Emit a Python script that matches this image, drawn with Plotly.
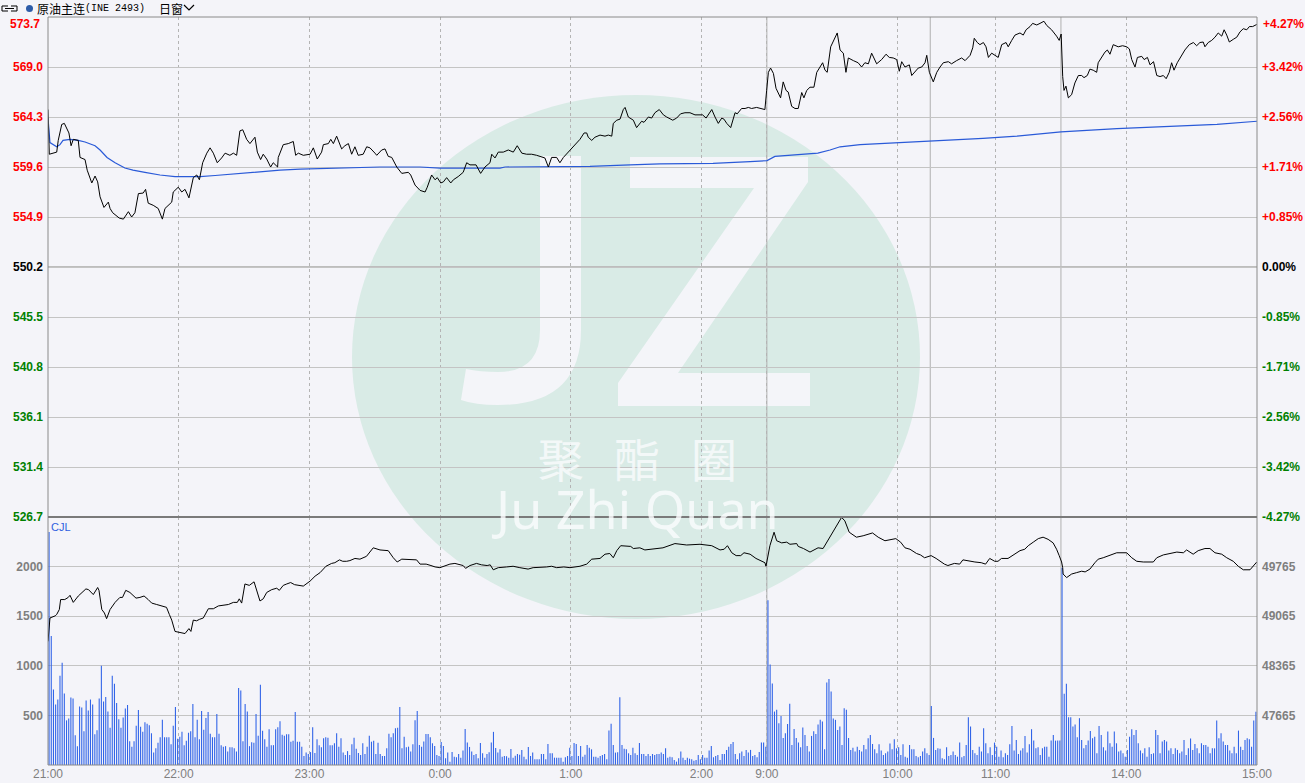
import plotly.graph_objects as go

# ---------------- data ----------------
prev_settle = 550.2

# price axis ticks and the matching percent labels
price_ticks = [526.7, 531.4, 536.1, 540.8, 545.5, 550.2, 554.9, 559.6, 564.3, 569.0, 573.7]
pct_labels = ['-4.27%', '-3.42%', '-2.56%', '-1.71%', '-0.85%', '0.00%',
              '+0.85%', '+1.71%', '+2.56%', '+3.42%', '+4.27%']
vol_ticks = [500, 1000, 1500, 2000]
oi_ticks = [47665, 48365, 49065, 49765]

# trading minutes since 21:00 (night 21:00-2:30, day 9:00-10:15, 10:30-11:30, 13:30-15:00)
time_ticks = [0, 60, 120, 180, 240, 300, 330, 390, 435, 495, 555]
time_labels = ['21:00', '22:00', '23:00', '0:00', '1:00', '2:00', '9:00', '10:00', '11:00', '14:00', '15:00']
session_breaks = [330, 405, 465]

# last price
price_min = [0, 0.6, 4.0, 4.7, 6.3, 7.5, 9.6, 10.6, 11.6, 13.9, 14.7, 17.0, 18.0, 20.1, 21.6, 22.8, 23.9, 25.7, 27.7, 28.5,
             29.7, 32.7, 34.6, 36.9, 38.4, 39.9, 41.5, 43.7, 44.8, 46.0, 48.3, 50.6, 52.5, 53.7, 56.8, 57.5, 59.8, 61.4, 62.9, 64.7,
             66.7, 68.3, 69.5, 71.0, 72.9, 74.4, 75.9, 77.7, 79.7, 81.3, 83.5, 85.1, 86.6, 88.1, 89.4, 91.2, 92.7, 95.0, 96.1, 97.6,
             98.8, 100.4, 102.2, 103.4, 105.4, 105.7, 108.0, 110.3, 112.6, 113.7, 114.9, 117.2, 120.3, 121.8, 123.6, 125.6, 126.4, 128.7, 129.8, 131.0,
             132.5, 134.8, 136.3, 137.9, 139.4, 140.9, 142.4, 144.7, 146.3, 147.8, 150.1, 150.9, 153.2, 154.7, 156.2, 157.8, 160.1, 162.4, 165.4, 166.5,
             168.5, 170.0, 170.8, 173.1, 174.1, 176.1, 177.7, 178.7, 180.3, 181.5, 183.0, 184.9, 186.1, 188.3, 190.6, 192.2, 193.7, 196.5, 198.6, 200.6,
             202.9, 203.7, 205.2, 206.7, 209.0, 211.3, 213.6, 215.4, 217.5, 219.7, 222.0, 224.3, 226.2, 228.1, 229.7, 231.2, 233.5, 235.0, 236.6, 238.8,
             241.1, 242.7, 244.2, 246.1, 247.3, 248.0, 249.6, 251.1, 253.4, 255.7, 257.2, 258.8, 259.5, 261.1, 262.6, 264.1, 264.9, 266.4, 268.7, 270.2,
             272.5, 273.6, 275.6, 277.1, 278.6, 280.6, 282.5, 284.0, 286.8, 288.6, 290.4, 292.4, 294.7, 297.0, 300.5, 302.1, 304.7, 306.2, 307.7, 309.3,
             310.3, 311.6, 313.4, 315.4, 316.4, 318.4, 320.0, 321.5, 323.0, 325.3, 327.6, 329.1, 329.9, 330.7, 331.7, 333.0, 334.2, 335.2, 336.3, 337.5,
             338.8, 339.8, 341.4, 342.9, 344.4, 346.0, 347.0, 348.3, 349.8, 351.6, 352.9, 354.4, 355.6, 356.7, 357.7, 359.3, 360.8, 362.3, 363.6, 365.1,
             366.3, 367.4, 369.7, 371.9, 373.5, 375.0, 376.6, 378.1, 380.4, 382.7, 384.7, 386.2, 388.0, 389.6, 390.8, 391.9, 393.4, 395.4, 396.5, 398.0,
             399.5, 401.1, 402.6, 403.4, 404.6, 406.4, 408.0, 409.5, 411.0, 413.3, 414.8, 417.1, 419.4, 421.0, 423.3, 424.5, 425.2, 426.6, 427.8, 429.4,
             430.6, 431.7, 433.2, 436.2, 437.8, 439.8, 440.8, 442.4, 443.9, 446.2, 447.7, 449.0, 450.8, 452.0, 453.9, 455.4, 457.2, 458.5, 460.7, 463.0,
             464.2, 465.1, 465.8, 466.4, 467.3, 468.4, 469.9, 471.4, 473.0, 474.5, 475.6, 477.1, 478.3, 479.8, 481.4, 482.1, 483.7, 485.2, 486.3, 487.5,
             489.0, 491.3, 493.3, 495.2, 496.4, 497.5, 499.0, 500.1, 502.1, 503.2, 504.7, 505.9, 507.5, 509.0, 510.5, 512.0, 513.3, 514.7, 515.8, 516.9,
             518.4, 519.7, 521.9, 523.9, 525.8, 527.3, 528.8, 530.3, 531.1, 532.6, 534.2, 535.7, 537.2, 538.8, 539.9, 541.1, 542.3, 544.1, 545.7, 547.2,
             548.7, 550.3, 551.5, 553.0, 554.9]
price_val = [565.0, 560.8, 561.0, 562.1, 563.6, 563.7, 562.8, 561.6, 562.2, 562.1, 560.5, 560.3, 559.3, 558.1, 558.75, 558.2, 556.8, 555.8, 556.3, 555.7,
             555.3, 554.8, 554.7, 555.4, 554.9, 555.3, 557.1, 557.15, 557.5, 556.2, 556.0, 555.7, 554.7, 555.7, 556.3, 557.25, 557.7, 557.25, 557.5, 556.7,
             558.6, 558.85, 558.4, 560.0, 560.9, 561.4, 560.9, 560.0, 560.45, 560.9, 560.7, 560.9, 560.7, 563.0, 563.1, 562.2, 561.8, 562.4, 561.0, 560.3,
             560.8, 560.35, 559.6, 560.0, 559.6, 560.5, 561.7, 561.8, 562.0, 560.7, 560.9, 560.7, 560.8, 561.4, 560.35, 561.0, 561.7, 561.8, 562.2, 561.8,
             562.5, 561.3, 561.6, 561.8, 560.8, 561.5, 560.7, 560.8, 561.5, 561.4, 560.9, 560.7, 561.2, 561.3, 560.6, 560.5, 559.6, 559.0, 559.1, 558.85,
             557.9, 557.5, 557.4, 557.25, 557.7, 558.85, 558.4, 558.6, 558.1, 558.2, 558.6, 558.1, 558.4, 558.7, 559.1, 560.0, 559.8, 559.8, 559.0, 559.6,
             560.0, 560.8, 560.45, 561.0, 561.0, 561.2, 561.0, 561.6, 560.9, 560.8, 560.8, 560.7, 560.6, 560.45, 559.6, 560.5, 560.5, 560.0, 560.5, 561.0,
             561.5, 561.95, 562.2, 562.8, 562.8, 562.4, 562.1, 562.4, 562.6, 562.5, 562.6, 562.5, 563.7, 564.0, 564.1, 565.0, 565.2, 564.3, 564.0, 563.3,
             563.9, 563.8, 564.3, 564.2, 564.7, 565.0, 564.5, 564.3, 564.0, 564.2, 564.6, 564.7, 564.7, 564.5, 564.5, 564.2, 565.0, 564.3, 563.7, 564.2,
             564.1, 563.7, 563.3, 564.7, 564.6, 565.1, 565.1, 565.2, 565.1, 565.2, 565.1, 565.0, 566.8, 568.5, 568.9, 568.4, 567.0, 566.6, 566.1, 567.6,
             566.8, 566.65, 565.3, 565.1, 565.1, 566.6, 566.1, 566.8, 567.1, 567.1, 568.5, 569.0, 569.4, 568.7, 568.5, 570.9, 571.5, 572.2, 570.6, 570.3,
             568.5, 569.85, 569.6, 569.4, 569.0, 569.4, 569.3, 570.3, 569.3, 569.7, 570.2, 569.9, 569.85, 569.7, 568.6, 569.5, 569.0, 569.2, 568.2, 568.6,
             568.9, 569.0, 569.4, 570.1, 568.5, 567.6, 568.5, 569.0, 569.4, 569.5, 569.3, 569.6, 569.85, 569.6, 570.1, 570.8, 571.7, 571.3, 571.1, 571.3,
             570.9, 569.9, 570.3, 569.9, 571.1, 571.3, 570.9, 571.5, 572.0, 572.2, 572.0, 572.5, 572.8, 573.1, 572.95, 573.1, 573.3, 572.9, 572.5, 571.9,
             571.5, 572.1, 568.1, 566.8, 567.2, 566.1, 566.4, 567.5, 568.2, 568.2, 568.0, 568.2, 568.8, 568.7, 568.5, 569.4, 569.9, 570.4, 570.6, 570.2,
             571.1, 570.9, 571.0, 570.9, 570.7, 569.7, 569.0, 569.9, 570.0, 569.7, 569.9, 569.2, 569.5, 568.2, 568.1, 568.2, 567.9, 568.5, 569.4, 568.7,
             569.4, 569.85, 570.6, 571.1, 571.3, 571.0, 571.3, 571.35, 570.9, 571.3, 571.5, 571.8, 572.2, 571.9, 572.5, 572.0, 571.35, 571.6, 571.8, 572.3,
             572.6, 572.5, 572.8, 572.8, 573.0]

# average price
avg_min = [0, 0.6, 0.9, 4.0, 5.5, 6.9, 10.1, 13.9, 17.0, 21.6, 23.9, 27.1, 30.8, 35.3, 39.0, 44.5, 51.4, 58.3, 69.8, 76.7,
           85.8, 95.9, 106.5, 115.7, 129.5, 138.6, 152.4, 170.8, 179.9, 207.5, 209.8, 248.8, 253.4, 267.2, 280.9, 305.3, 322.3, 330.1, 333.7, 342.0,
           353.4, 359.0, 363.6, 372.8, 381.9, 393.4, 406.3, 429.2, 444.8, 460.0, 465.0, 490.7, 513.7, 536.6, 555.0]
avg_val = [564.2, 562.6, 561.9, 561.5, 561.7, 562.1, 562.2, 562.1, 561.95, 561.6, 561.2, 560.5, 560.0, 559.5, 559.3, 559.1, 558.85, 558.7, 558.7, 558.8,
           558.95, 559.15, 559.3, 559.4, 559.5, 559.5, 559.6, 559.6, 559.5, 559.5, 559.6, 559.65, 559.7, 559.8, 559.9, 559.95, 560.1, 560.2, 560.6, 560.7,
           560.9, 561.2, 561.5, 561.7, 561.8, 561.9, 562.0, 562.3, 562.5, 562.8, 562.9, 563.2, 563.4, 563.6, 563.9]

# open interest
oi_min = [0, 0.6, 0.9, 3.3, 4.0, 5.2, 5.8, 7.7, 9.3, 10.1, 11.6, 13.9, 17.4, 18.6, 20.8, 22.8, 23.4, 24.7, 25.9, 26.9,
          28.5, 30.8, 33.0, 34.2, 35.7, 37.6, 40.4, 42.2, 44.1, 46.0, 47.6, 49.9, 52.1, 54.4, 55.7, 56.8, 58.3, 60.6, 62.9, 64.7,
          65.6, 66.7, 68.2, 69.5, 71.3, 73.6, 75.9, 78.2, 80.5, 82.8, 85.1, 86.9, 87.8, 88.9, 90.4, 92.4, 94.6, 95.5, 97.3, 98.8,
          100.4, 102.7, 105.0, 106.2, 108.0, 109.6, 111.4, 113.2, 114.9, 117.2, 120.3, 122.6, 124.9, 127.6, 130.2, 131.7, 133.8, 135.3, 137.1, 138.6,
          140.9, 143.2, 146.2, 149.3, 152.4, 156.2, 158.5, 160.3, 162.4, 164.7, 169.2, 170.8, 173.6, 175.8, 177.7, 179.9, 182.2, 184.5, 186.8, 188.6,
          190.6, 191.7, 193.7, 196.7, 199.0, 201.6, 203.0, 204.4, 206.7, 210.5, 213.5, 216.6, 220.4, 222.7, 225.9, 228.9, 231.2, 233.5, 236.8, 239.6,
          244.2, 247.3, 249.6, 253.4, 255.7, 257.9, 259.5, 261.1, 262.9, 265.7, 267.5, 268.7, 271.7, 274.0, 277.8, 282.3, 287.8, 293.2, 299.3, 304.7,
          308.5, 310.4, 311.9, 313.9, 315.9, 318.0, 319.5, 322.3, 325.0, 327.6, 329.1, 329.6, 330.2, 331.4, 333.3, 334.5, 336.8, 339.1, 340.6, 343.7,
          344.4, 346.8, 349.8, 351.3, 353.5, 355.8, 357.3, 360.4, 363.2, 364.3, 365.8, 367.8, 371.1, 374.2, 378.5, 381.1, 384.2, 386.5, 389.2, 391.4,
          393.4, 395.7, 398.7, 400.5, 402.4, 405.4, 407.7, 411.5, 413.1, 416.1, 418.5, 420.0, 423.1, 425.5, 428.4, 430.4, 432.3, 434.6, 436.1, 437.7,
          440.7, 443.8, 446.2, 448.4, 450.0, 452.3, 454.6, 456.8, 459.1, 461.4, 463.0, 464.2, 465.3, 465.8, 466.0, 467.6, 469.9, 472.2, 474.5, 476.1,
          478.3, 480.6, 482.1, 484.4, 487.5, 490.6, 495.2, 497.5, 499.8, 502.8, 507.4, 509.0, 512.0, 515.1, 518.2, 521.2, 522.7, 525.7, 528.0, 531.1,
          533.4, 535.7, 538.8, 541.1, 544.1, 546.4, 548.7, 551.8, 553.3, 554.9]
oi_val = [48710, 48900, 49040, 49070, 49090, 49160, 49300, 49300, 49330, 49360, 49260, 49350, 49450, 49440, 49370, 49470, 49430, 49160, 49110, 49030,
          49160, 49260, 49330, 49330, 49430, 49400, 49320, 49330, 49350, 49300, 49250, 49230, 49210, 49190, 49090, 49010, 48850, 48840, 48820, 48890,
          48850, 49010, 49000, 49020, 49040, 49170, 49170, 49210, 49220, 49230, 49260, 49260, 49310, 49250, 49520, 49500, 49550, 49450, 49280, 49310,
          49400, 49440, 49460, 49430, 49500, 49520, 49540, 49510, 49500, 49490, 49560, 49630, 49680, 49770, 49810, 49820, 49860, 49840, 49840, 49850,
          49880, 49870, 49910, 50030, 50000, 49990, 49890, 49830, 49870, 49870, 49860, 49800, 49800, 49780, 49760, 49750, 49780, 49800, 49810, 49800,
          49780, 49740, 49780, 49810, 49790, 49780, 49790, 49720, 49750, 49760, 49770, 49750, 49730, 49750, 49750, 49760, 49770, 49750, 49760, 49750,
          49770, 49800, 49870, 49880, 49940, 49950, 49890, 49990, 50060, 50050, 50050, 50020, 50030, 50000, 50010, 50030, 50090, 50070, 50080, 50060,
          50000, 50010, 50060, 49960, 49920, 49920, 49960, 49940, 49880, 49840, 49820, 49770, 49870, 50060, 50250, 50130, 50100, 50110, 50080, 50090,
          50050, 50020, 49970, 49990, 50030, 50020, 50100, 50270, 50410, 50460, 50410, 50250, 50180, 50200, 50240, 50180, 50130, 50140, 50160, 50110,
          50030, 50010, 49950, 49930, 49890, 49920, 49880, 49800, 49780, 49810, 49800, 49860, 49840, 49830, 49820, 49800, 49880, 49840, 49840, 49880,
          49880, 49940, 49990, 50010, 50060, 50110, 50160, 50180, 50150, 50100, 50010, 49920, 49830, 49750, 49660, 49610, 49660, 49680, 49700, 49690,
          49730, 49820, 49870, 49890, 49920, 49960, 49960, 49890, 49840, 49830, 49830, 49890, 49930, 49950, 49970, 49960, 50000, 49940, 49990, 50020,
          50020, 49960, 49940, 49890, 49840, 49770, 49720, 49720, 49770, 49830]

# volume per trading minute
volume = [
    2350, 1300, 760, 610, 660, 900, 1030, 720, 450, 470, 680, 670, 300, 190, 590, 580, 340, 650, 550, 660,
    610, 310, 350, 670, 1000, 640, 685, 540, 375, 900, 820, 625, 460, 375, 480, 570, 605, 240, 185, 240,
    395, 555, 385, 335, 430, 415, 400, 320, 125, 170, 225, 280, 455, 280, 280, 280, 210, 395, 585, 265,
    285, 335, 200, 245, 325, 340, 615, 280, 455, 260, 545, 355, 475, 535, 315, 280, 280, 515, 315, 200,
    185, 190, 135, 180, 180, 170, 135, 775, 750, 240, 615, 540, 190, 230, 225, 515, 295, 810, 345, 260,
    185, 360, 200, 200, 360, 380, 440, 305, 295, 310, 310, 235, 245, 535, 235, 235, 185, 90, 125, 110,
    130, 380, 120, 260, 200, 180, 270, 280, 275, 200, 200, 220, 320, 185, 270, 125, 100, 140, 100, 210,
    275, 165, 120, 100, 220, 110, 185, 295, 235, 245, 110, 225, 110, 90, 90, 170, 315, 280, 320, 370,
    375, 585, 170, 285, 180, 185, 135, 210, 450, 545,
    202, 185, 236, 313, 313, 280, 219, 192, 101, 91, 233, 192, 67, 125, 34, 131, 84, 78, 111, 74,
    145, 364, 226, 182, 135, 101, 111, 67, 222, 118, 74, 111, 128, 226, 334, 172, 125, 158, 84, 91,
    88, 74, 162, 74, 94, 111, 104, 152, 84, 57, 182, 91, 125, 57, 57, 57, 111, 111, 57, 212,
    118, 118, 74, 74, 74, 74, 34, 78, 91, 175, 91, 222, 212, 91, 192, 84, 104, 202, 175, 158,
    84, 84, 74, 91, 101, 111, 57, 347, 415, 202, 125, 128, 684, 202, 165, 158, 118, 101, 175, 118,
    101, 222, 111, 111, 91, 111, 91, 111, 101, 111,
    111, 125, 111, 168, 74, 84, 78, 50, 34, 67, 135, 74, 50, 74, 64, 57, 44, 50, 101, 57,
    101, 74, 74, 145, 192, 78, 91, 101, 50, 111, 111, 152, 185, 212, 233, 111, 57, 118, 135, 91,
    152, 125, 152, 91, 101, 78, 131, 226, 226, 185,
    1660, 1014, 822, 539, 556, 421, 495, 273, 320, 414, 617, 202, 364, 273, 226, 179, 377, 303, 192, 135,
    293, 340, 313, 408, 455, 438, 158, 832, 866, 741, 468, 455, 354, 388, 202, 573, 556, 273, 152, 175,
    135, 185, 152, 135, 202, 158, 270, 303, 212, 158, 118, 209, 145, 101, 118, 135, 216, 158, 260, 168,
    179, 101, 209, 84, 74, 202, 158, 158, 91, 78, 91, 135, 168, 118, 101,
    596, 273, 152, 168, 165, 67, 57, 179, 91, 101, 135, 101, 84, 226, 78, 91, 202, 482, 388, 152,
    118, 101, 185, 135, 371, 219, 118, 179, 101, 226, 185, 84, 145, 78, 118, 101, 209, 394, 145, 253,
    111, 145, 168, 293, 125, 209, 361, 246, 168, 179, 101, 168, 185, 185, 84, 246, 303, 246, 246, 246,
    1988, 718, 819, 482, 482, 388, 408, 280, 472, 253, 168, 202, 246, 344, 270, 286, 118, 394, 303, 179,
    145, 337, 219, 185, 337, 219, 135, 145, 118, 84, 152, 286, 361, 303, 354, 219, 145, 118, 168, 84,
    179, 111, 118, 354, 303, 118, 236, 253, 236, 145, 168, 111, 168, 152, 118, 135, 253, 101, 168, 266,
    152, 212, 168, 118, 219, 202, 202, 185, 118, 168, 168, 448, 270, 320, 236, 202, 202, 145, 118, 185,
    118, 347, 185, 152, 253, 270, 260, 185, 448, 536,
]

assert len(price_min) == len(price_val)
assert len(avg_min) == len(avg_val)
assert len(oi_min) == len(oi_val)

# ---------------- styling ----------------
W, H = 1305, 783
ML, MR, MT, MB = 48, 48, 17, 18
PW, PH = W - ML - MR, H - MT - MB
SPLIT = 248 / PH          # share of the volume pane

BG = '#f4f4f9'
RED = '#ff0000'
GREEN = '#008000'
GRAY = '#7f7f7f'
GRID = '#c4c4c4'
# a colour with alpha < 1 makes plotly round the thin bars to whole pixels
# instead of widening them to two pixels
VOL_BLUE = 'rgba(47,98,232,0.99)'
AVG_BLUE = '#2a5ad8'
FONT = 'Liberation Sans, Arial, sans-serif'
CJK = 'Noto Sans CJK SC, sans-serif'


def px(x):
    return (x - ML) / PW


def py(y):
    return (H - MB - y) / PH


def to_path(cmds):
    out = []
    for c in cmds:
        pts = c[1:]
        coords = ' '.join(f'{px(pts[i]):.5f},{py(pts[i + 1]):.5f}' for i in range(0, len(pts), 2))
        out.append(c[0] + coords)
    return ' '.join(out)


def colored(text, color):
    return f'<span style="color:{color}"><b>{text}</b></span>'


def side_color(v):
    if v > prev_settle:
        return RED
    if v < prev_settle:
        return GREEN
    return '#000000'


price_text = [colored(f'{v:.1f}', side_color(v)) for v in price_ticks]
pct_text = [colored(t, side_color(v)) for t, v in zip(pct_labels, price_ticks)]
price_text[-1] = ''
pct_text[-1] = ''

fig = go.Figure()

fig.add_trace(go.Bar(
    x=[i + 0.5 for i in range(len(volume))], y=volume, width=0.5,
    marker=dict(color=VOL_BLUE, line=dict(width=0)),
    xaxis='x', yaxis='y3', hoverinfo='skip'))
fig.add_trace(go.Scatter(x=oi_min, y=oi_val, mode='lines',
                         line=dict(color='#000000', width=1), xaxis='x', yaxis='y4'))
fig.add_trace(go.Scatter(x=avg_min, y=avg_val, mode='lines',
                         line=dict(color=AVG_BLUE, width=1.2), xaxis='x', yaxis='y'))
fig.add_trace(go.Scatter(x=price_min, y=price_val, mode='lines',
                         line=dict(color='#000000', width=1), xaxis='x', yaxis='y'))
fig.add_trace(go.Scatter(x=[0], y=[prev_settle], mode='markers', marker=dict(opacity=0),
                         xaxis='x', yaxis='y2', hoverinfo='skip'))

shapes = []
# watermark disc and letters
shapes.append(dict(type='circle', xref='paper', yref='paper', layer='below',
                   x0=px(352), x1=px(920), y0=py(619), y1=py(95),
                   fillcolor='#d9ebe6', line=dict(width=0)))
J = [('M', 540, 156), ('L', 581, 156), ('L', 581, 330), ('Q', 581, 405, 498, 405),
     ('Q', 475, 405, 461, 400), ('L', 466, 369), ('Q', 480, 372, 498, 372),
     ('Q', 540, 372, 540, 330), ('Z',)]
Z = [('M', 630, 157), ('L', 808, 157), ('L', 808, 182), ('L', 678, 373), ('L', 810, 373),
     ('L', 810, 406), ('L', 618, 406), ('L', 618, 383), ('L', 754, 188), ('L', 630, 188), ('Z',)]
for letter in (J, Z):
    shapes.append(dict(type='path', xref='paper', yref='paper', layer='below',
                       path=to_path(letter), fillcolor='#f4f5f9', line=dict(width=0)))

# session breaks
for b in session_breaks:
    shapes.append(dict(type='line', xref='x', yref='paper', layer='below',
                       x0=b, x1=b, y0=0, y1=1, line=dict(color='#b0b0b0', width=1)))
# previous settle line
shapes.append(dict(type='line', xref='paper', yref='y', layer='below', x0=0, x1=1,
                   y0=prev_settle, y1=prev_settle, line=dict(color='#bdbdbd', width=2)))
# frame and pane divider
frame = '#8a8a8a'
shapes += [
    dict(type='line', xref='paper', yref='paper', x0=0, x1=1, y0=1, y1=1, line=dict(color=frame, width=1)),
    dict(type='line', xref='paper', yref='paper', x0=0, x1=1, y0=0, y1=0, line=dict(color=frame, width=1)),
    dict(type='line', xref='paper', yref='paper', x0=0, x1=0, y0=0, y1=1, line=dict(color=frame, width=1)),
    dict(type='line', xref='paper', yref='paper', x0=1, x1=1, y0=0, y1=1, line=dict(color=frame, width=1)),
    dict(type='line', xref='paper', yref='paper', x0=0, x1=1, y0=SPLIT, y1=SPLIT, line=dict(color='#7a7a7a', width=2)),
]
# header icons
shapes += [
    dict(type='path', xref='paper', yref='paper',
         path=to_path([('M', 8, 6), ('L', 2, 6), ('L', 2, 11), ('L', 8, 11)]), line=dict(color='#000000', width=1)),
    dict(type='path', xref='paper', yref='paper',
         path=to_path([('M', 11, 6), ('L', 17, 6), ('L', 17, 11), ('L', 11, 11)]), line=dict(color='#000000', width=1)),
    dict(type='line', xref='paper', yref='paper', x0=px(5), x1=px(14), y0=py(8.5), y1=py(8.5),
         line=dict(color='#000000', width=1)),
    dict(type='circle', xref='paper', yref='paper', x0=px(26), x1=px(33), y0=py(12), y1=py(5),
         fillcolor='#2d5ca8', line=dict(width=0)),
    dict(type='path', xref='paper', yref='paper',
         path=to_path([('M', 184, 5), ('L', 189, 10), ('L', 194, 5)]), line=dict(color='#000000', width=1.2)),
]

annotations = [
    dict(text='原油主连', x=px(35), y=py(8.5), xanchor='left', yanchor='middle', showarrow=False,
         xref='paper', yref='paper', font=dict(family=CJK, size=12, color='#000000')),
    dict(text='(INE 2493)', x=px(83), y=py(8.5), xanchor='left', yanchor='middle', showarrow=False,
         xref='paper', yref='paper', font=dict(family='Liberation Mono, monospace', size=10, color='#000000')),
    dict(text='日窗', x=px(157), y=py(8.5), xanchor='left', yanchor='middle', showarrow=False,
         xref='paper', yref='paper', font=dict(family=CJK, size=12, color='#000000')),
    dict(text=colored(f'{price_ticks[-1]:.1f}', RED), x=px(42), y=py(24), xanchor='right', yanchor='middle',
         showarrow=False, xref='paper', yref='paper', font=dict(family=FONT, size=12)),
    dict(text=colored(pct_labels[-1], RED), x=px(1261), y=py(24), xanchor='left', yanchor='middle',
         showarrow=False, xref='paper', yref='paper', font=dict(family=FONT, size=12)),
    dict(text='CJL', x=px(49), y=py(527), xanchor='left', yanchor='middle', showarrow=False,
         xref='paper', yref='paper', font=dict(family=FONT, size=11, color='#2f5fe0')),
    # watermark caption, both lines in one text block
    dict(text='<span style="font-size:46px">聚\u2002\u2009酯\u2002\u2009圈</span><br>'
              '<span style="font-size:52px">Ju Zhi Quan</span>',
         x=px(635), y=py(486), xanchor='center', yanchor='middle', align='center', showarrow=False,
         xref='paper', yref='paper',
         font=dict(family='Noto Sans, Noto Sans CJK SC, sans-serif', size=40, color='rgba(250,251,253,0.82)')),
]

axis_common = dict(zeroline=False, showline=False, ticks='', automargin=False)

fig.update_layout(
    width=W, height=H, autosize=False,
    margin=dict(l=ML, r=MR, t=MT, b=MB, pad=0),
    paper_bgcolor=BG, plot_bgcolor=BG,
    showlegend=False, hovermode=False,
    font=dict(family=FONT, size=12, color=GRAY),
    xaxis=dict(domain=[0, 1], range=[0, 555], anchor='y3',
               tickmode='array', tickvals=time_ticks, ticktext=time_labels,
               showgrid=True, gridcolor='#b4b4b4', griddash='3px,3px', gridwidth=1,
               tickfont=dict(family=FONT, size=12, color=GRAY), **axis_common),
    yaxis=dict(domain=[SPLIT, 1], range=[price_ticks[0], price_ticks[-1]], anchor='x', side='left',
               tickmode='array', tickvals=price_ticks, ticktext=price_text, ticklabelstandoff=4,
               showgrid=True, gridcolor=GRID, gridwidth=1,
               tickfont=dict(family=FONT, size=12), **axis_common),
    yaxis2=dict(overlaying='y', anchor='x', side='right', range=[price_ticks[0], price_ticks[-1]],
                tickmode='array', tickvals=price_ticks, ticktext=pct_text, ticklabelstandoff=4,
                showgrid=False, tickfont=dict(family=FONT, size=12), **axis_common),
    yaxis3=dict(domain=[0, SPLIT], range=[0, 2500], anchor='x', side='left',
                tickmode='array', tickvals=vol_ticks, ticktext=[f'<b>{v}</b>' for v in vol_ticks],
                ticklabelstandoff=4, showgrid=True, gridcolor=GRID, gridwidth=1,
                tickfont=dict(family=FONT, size=12, color=GRAY), **axis_common),
    yaxis4=dict(overlaying='y3', anchor='x', side='right', range=[46965, 50465],
                tickmode='array', tickvals=oi_ticks, ticktext=[f'<b>{v}</b>' for v in oi_ticks],
                ticklabelstandoff=4, showgrid=False,
                tickfont=dict(family=FONT, size=12, color=GRAY), **axis_common),
    shapes=shapes,
    annotations=annotations,
)

# the page is photographed from its top-left corner, so drop the default body margin
fig.write_html("out.html",
               config={'responsive': False, 'displayModeBar': False},
               post_script="document.body.style.margin='0px';document.body.style.overflow='hidden';")
